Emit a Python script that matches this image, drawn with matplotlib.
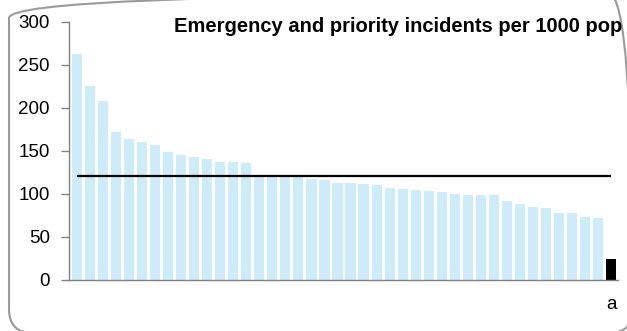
import matplotlib.pyplot as plt
import matplotlib.patches as mpatches
import numpy as np

# valores das barras (ordenados), ultima barra = "a"
valores = [263, 225, 208, 172, 164, 160, 157, 148, 145, 143, 140, 137, 137, 136,
           120, 120, 119, 119, 117, 116, 113, 113, 111, 110, 107, 106, 104, 103,
           102, 100, 99, 98, 98, 92, 88, 85, 83, 78, 77, 73, 72, 24]
rotulos = [''] * (len(valores) - 1) + ['a']
media = 121
titulo = 'Emergency and priority incidents per 1000 pop'

def main():
    plt.rcParams['font.family'] = ['Liberation Sans', 'DejaVu Sans']
    fig = plt.figure(figsize=(6.27, 3.31), dpi=100)
    ax = fig.add_axes([0.1105, 0.155, 0.8745, 0.7795])

    x = np.arange(len(valores))
    cores = ['#CDEBF8'] * (len(valores) - 1) + ['black']
    ax.bar(x, valores, width=0.78, color=cores, edgecolor='none', zorder=2)

    # linha da media
    ax.hlines(media, 0, len(valores) - 1, color='black', linewidth=1.6, zorder=3)

    ax.set_xlim(-0.58, len(valores) - 0.51)
    ax.set_ylim(0, 300)
    ax.set_yticks([0, 50, 100, 150, 200, 250, 300])
    ax.set_xticks(x)
    ax.set_xticklabels(rotulos)
    ax.tick_params(axis='x', length=0, pad=12, labelsize=13.5)
    ax.tick_params(axis='y', length=6, width=1, color='#808080', labelsize=13.5, pad=8)

    for lado in ['top', 'right']:
        ax.spines[lado].set_visible(False)
    for lado in ['left', 'bottom']:
        ax.spines[lado].set_color('#808080')
        ax.spines[lado].set_linewidth(1)

    fig.text(0.992, 0.903, titulo, ha='right', va='baseline',
             fontsize=14.5, fontweight='bold')

    # moldura arredondada
    moldura = mpatches.FancyBboxPatch((9, -2), 624, 339,
                                      boxstyle='round,pad=0,rounding_size=24',
                                      transform=None, facecolor='none',
                                      edgecolor='#9a9a9a', linewidth=1.5)
    fig.add_artist(moldura)

    fig.savefig('out.png', dpi=100)

main()
